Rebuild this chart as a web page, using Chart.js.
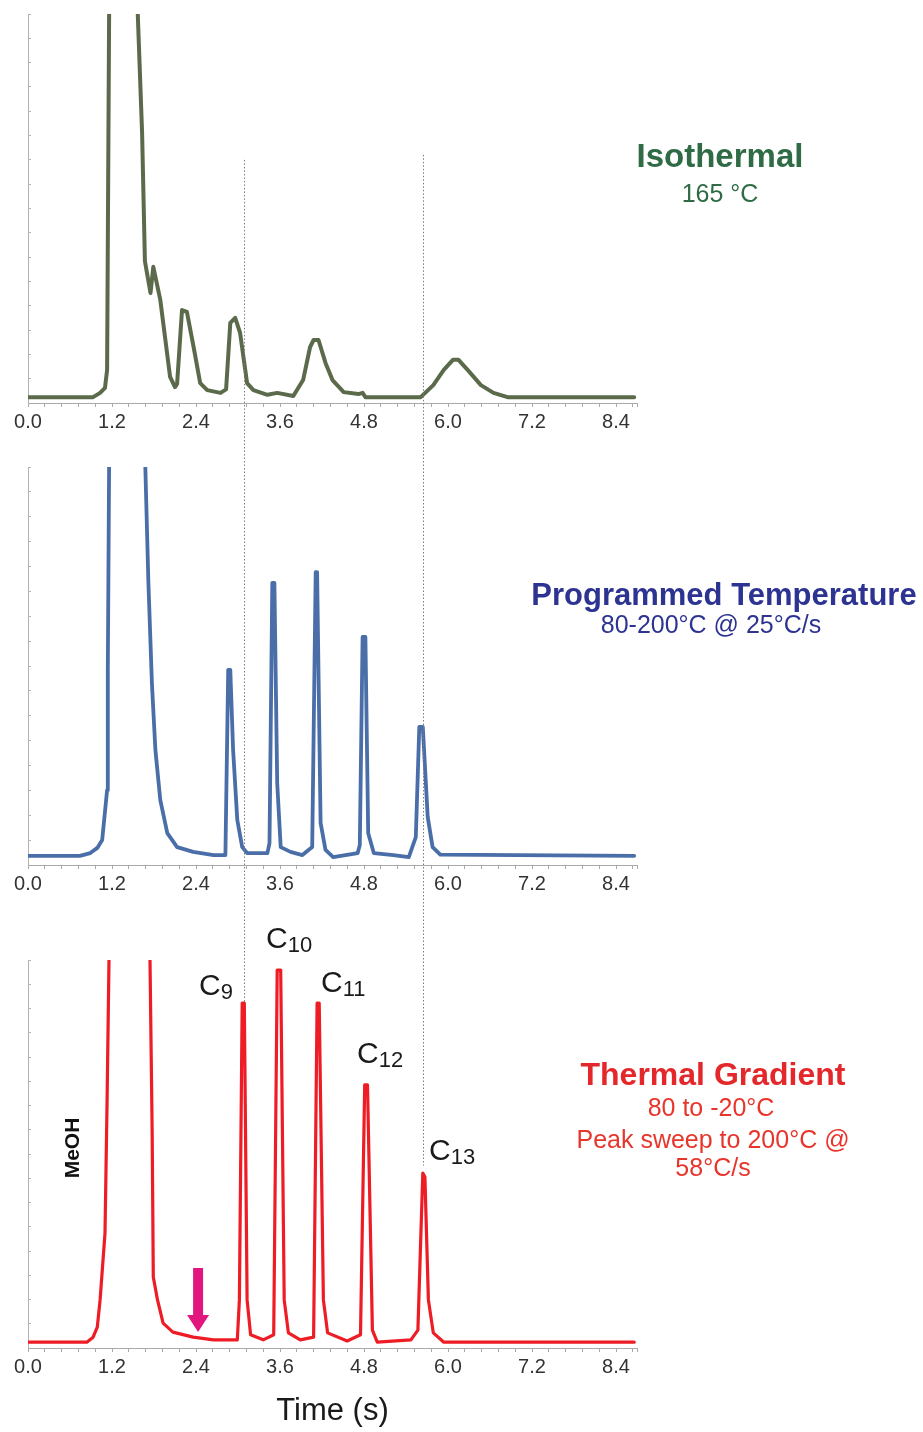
<!DOCTYPE html>
<html>
<head>
<meta charset="utf-8">
<script src="https://cdn.jsdelivr.net/npm/chart.js@4.4.0/dist/chart.umd.min.js"></script>
<style>
  body { margin: 0; background: #fff; font-family: "Liberation Sans", Arial, sans-serif; }
  #wrap { position: relative; width: 923px; height: 1432px; overflow: hidden; }
  canvas { position: absolute; left: 0; }
  .txt { position: absolute; width: 420px; text-align: center; white-space: nowrap; line-height: 1; }
  .peak { position: absolute; font-size: 30px; line-height: 1; color: #1a1a1a; white-space: nowrap; }
  .peak span { font-size: 22px; position: relative; top: 4px; }
</style>
</head>
<body>
<div id="wrap">
  <canvas id="isoChart" width="923" height="440" style="top:0"></canvas>
  <canvas id="progChart" width="923" height="462" style="top:440px"></canvas>
  <canvas id="gradChart" width="923" height="530" style="top:902px"></canvas>

  <div class="txt" style="left:510px;top:139px;font-size:33px;font-weight:bold;color:#2f6b45">Isothermal</div>
  <div class="txt" style="left:510px;top:181px;font-size:25px;color:#2f6b45">165 °C</div>

  <div class="txt" style="left:514px;top:579px;font-size:31px;font-weight:bold;color:#2c3391">Programmed Temperature</div>
  <div class="txt" style="left:501px;top:612px;font-size:25px;color:#2c3391">80-200°C @ 25°C/s</div>

  <div class="txt" style="left:503px;top:1058px;font-size:32px;font-weight:bold;color:#e4272a">Thermal Gradient</div>
  <div class="txt" style="left:501px;top:1095px;font-size:25px;color:#e8352c">80 to -20°C</div>
  <div class="txt" style="left:503px;top:1127px;font-size:25px;color:#e8352c">Peak sweep to 200°C @</div>
  <div class="txt" style="left:503px;top:1155px;font-size:25px;color:#e8352c">58°C/s</div>

  <div class="peak" style="left:199px;top:970px">C<span>9</span></div>
  <div class="peak" style="left:266px;top:923px">C<span>10</span></div>
  <div class="peak" style="left:321px;top:967px">C<span>11</span></div>
  <div class="peak" style="left:357px;top:1038px">C<span>12</span></div>
  <div class="peak" style="left:429px;top:1135px">C<span>13</span></div>

  <div style="position:absolute;left:32px;top:1136px;width:80px;text-align:center;font-size:21px;font-weight:bold;line-height:24px;color:#111;transform:rotate(-90deg)">MeOH</div>
</div>

<script>
// time axis (s) and detector signal (0-100 = top of each panel, >100 is cut off)
const isoTime = [0.00, 0.93, 1.03, 1.10, 1.13, 1.16, 1.56, 1.63, 1.67, 1.70, 1.75, 1.79, 1.89, 2.03, 2.10, 2.13,
  2.20, 2.27, 2.37, 2.46, 2.56, 2.75, 2.83, 2.89, 2.96, 3.03, 3.13, 3.22, 3.42, 3.56, 3.79, 3.93,
  4.03, 4.08, 4.15, 4.25, 4.35, 4.51, 4.72, 4.78, 4.82, 5.61, 5.79, 5.94, 6.07, 6.15, 6.28, 6.47,
  6.65, 6.85, 8.66];
const isoSignal = [1.5, 1.5, 2.6, 3.9, 8.5, 104, 104, 69.4, 36.5, 33.4, 28.3, 35.0, 26.5, 6.7, 4.1, 4.9,
  23.9, 23.4, 14.0, 5.1, 3.3, 2.6, 3.5, 20.6, 21.9, 18.0, 5.1, 3.3, 2.1, 2.6, 1.8, 5.9,
  14.4, 16.2, 16.2, 10.3, 5.9, 2.8, 2.3, 2.6, 1.5, 1.5, 4.6, 8.5, 11.1, 11.1, 8.5, 4.6,
  2.6, 1.5, 1.5];

const progTime = [0.00, 0.74, 0.89, 0.99, 1.06, 1.13, 1.14, 1.16, 1.67, 1.72, 1.77, 1.82, 1.89, 1.99, 2.13, 2.36,
  2.65, 2.82, 2.86, 2.89, 2.93, 2.99, 3.06, 3.13, 3.42, 3.45, 3.49, 3.52, 3.56, 3.61, 3.75, 3.92,
  4.06, 4.11, 4.13, 4.18, 4.25, 4.36, 4.71, 4.74, 4.78, 4.82, 4.86, 4.94, 5.22, 5.44, 5.54, 5.59,
  5.64, 5.71, 5.78, 5.89, 8.66];
const progSignal = [2.3, 2.3, 3.0, 4.3, 6.3, 18.8, 49.0, 104, 104, 70.9, 45.7, 28.9, 16.3, 8.0, 4.5, 3.3,
  2.5, 2.5, 49.0, 49.0, 28.9, 11.3, 4.5, 3.0, 3.0, 5.5, 70.9, 70.9, 20.6, 4.5, 3.3, 2.5,
  4.5, 73.6, 73.6, 10.6, 3.8, 2.0, 3.0, 5.0, 57.3, 57.3, 8.0, 3.0, 2.5, 2.0, 7.0, 34.7,
  34.7, 12.1, 4.5, 2.6, 2.3];

const gradTime = [0.00, 0.84, 0.93, 0.99, 1.03, 1.10, 1.13, 1.16, 1.74, 1.774, 1.79, 1.85, 1.93, 2.07, 2.36, 2.65,
  2.99, 3.02, 3.06, 3.09, 3.13, 3.18, 3.36, 3.51, 3.56, 3.61, 3.66, 3.72, 3.89, 4.08, 4.13, 4.16,
  4.22, 4.28, 4.56, 4.75, 4.81, 4.85, 4.92, 4.99, 5.47, 5.57, 5.64, 5.67, 5.72, 5.79, 5.94, 8.66];
const gradSignal = [1.5, 1.5, 2.8, 5.4, 12.4, 29.6, 63.9, 104, 104, 55.4, 18.3, 12.4, 6.4, 4.1, 2.8, 2.1,
  2.1, 12.4, 88.9, 88.9, 12.4, 3.4, 2.1, 3.4, 97.4, 97.4, 12.4, 3.9, 2.1, 2.8, 88.9, 88.9,
  12.4, 3.9, 1.8, 3.4, 67.8, 67.8, 4.6, 1.5, 2.1, 4.6, 45.1, 44.1, 12.4, 3.9, 1.5, 1.5];

// retention times of C9 and C13 under the thermal gradient (dotted guides)
const guideTimes = [3.08, 5.64];
// valve / injection arrow in the gradient run
const arrowTime = 2.43;
const arrowSignal = [20.6, 4.1];

const X_MAX = 8.7;
const MAJOR = 1.2;

function pts(t, s) { return t.map((v, i) => ({ x: v, y: s[i] })); }

// dotted vertical guides; from/to are signal values, null = canvas edge
const guides = {
  id: 'guides',
  afterDatasetsDraw(chart, args, opts) {
    const { ctx, scales: { x, y } } = chart;
    ctx.save();
    ctx.strokeStyle = '#7c7c7c';
    ctx.lineWidth = 1;
    ctx.setLineDash([1.5, 2]);
    (opts.lines || []).forEach(g => {
      const px = Math.round(x.getPixelForValue(g.at)) + 0.5;
      const y0 = g.from == null ? 0 : y.getPixelForValue(g.from);
      const y1 = g.to == null ? chart.height : y.getPixelForValue(g.to);
      ctx.beginPath();
      ctx.moveTo(px, y0);
      ctx.lineTo(px, y1);
      ctx.stroke();
    });
    ctx.restore();
  }
};

const arrow = {
  id: 'arrow',
  afterDatasetsDraw(chart, args, opts) {
    if (!opts.show) return;
    const { ctx, scales: { x, y } } = chart;
    const cx = x.getPixelForValue(arrowTime);
    const top = y.getPixelForValue(arrowSignal[0]);
    const tip = y.getPixelForValue(arrowSignal[1]);
    const neck = tip - 17;
    ctx.save();
    ctx.fillStyle = '#e2167f';
    ctx.beginPath();
    ctx.moveTo(cx - 5, top);
    ctx.lineTo(cx + 5, top);
    ctx.lineTo(cx + 5, neck);
    ctx.lineTo(cx + 11, neck);
    ctx.lineTo(cx, tip);
    ctx.lineTo(cx - 11, neck);
    ctx.lineTo(cx - 5, neck);
    ctx.closePath();
    ctx.fill();
    ctx.restore();
  }
};

function makeChart(id, time, signal, color, width, padTop, axisHeight, guideLines, withTitle) {
  return new Chart(document.getElementById(id), {
    type: 'line',
    data: {
      datasets: [{
        data: pts(time, signal),
        borderColor: color,
        borderWidth: width,
        borderJoinStyle: 'round',
        borderCapStyle: 'round',
        pointRadius: 0,
        tension: 0,
        fill: false
      }]
    },
    options: {
      responsive: false,
      animation: false,
      layout: { padding: { top: padTop, right: 286, left: 0, bottom: 0 } },
      plugins: {
        legend: { display: false },
        tooltip: { enabled: false },
        guides: { lines: guideLines },
        arrow: { show: withTitle }
      },
      scales: {
        x: {
          type: 'linear',
          min: 0,
          max: X_MAX,
          bounds: 'data',
          afterFit: s => { s.height = axisHeight; },
          border: { color: '#a9a9a9', width: 1 },
          grid: { drawOnChartArea: false, tickLength: 4, color: '#a9a9a9' },
          ticks: {
            stepSize: 0.24,
            autoSkip: false,
            maxRotation: 0,
            includeBounds: false,
            padding: 3,
            color: '#333',
            font: { family: 'Liberation Sans', size: 20 },
            callback: v => Math.abs(v / MAJOR - Math.round(v / MAJOR)) < 1e-6 ? v.toFixed(1) : ''
          },
          title: {
            display: withTitle,
            text: 'Time (s)',
            color: '#1a1a1a',
            font: { family: 'Liberation Sans', size: 31 },
            padding: { top: 0, bottom: 2 }
          }
        },
        y: {
          min: 0,
          max: 100,
          afterFit: s => { s.width = 28; },
          border: { color: '#b3b3b3', width: 1 },
          grid: { drawOnChartArea: false, tickLength: -3, color: '#b3b3b3' },
          ticks: { display: false, stepSize: 6.25 }
        }
      }
    },
    plugins: [guides, arrow]
  });
}

makeChart('isoChart', isoTime, isoSignal, '#5b6a4a', 4, 14, 37,
  [{ at: guideTimes[0], from: 62.5, to: null }, { at: guideTimes[1], from: 63.8, to: null }], false);
makeChart('progChart', progTime, progSignal, '#4a6ea8', 3.8, 27, 37,
  [{ at: guideTimes[0], from: null, to: null }, { at: guideTimes[1], from: null, to: null }], false);
makeChart('gradChart', gradTime, gradSignal, '#ee1c24', 3.2, 58, 84,
  [{ at: guideTimes[0], from: null, to: 89 }, { at: guideTimes[1], from: null, to: 47 }], true);
</script>
</body>
</html>
